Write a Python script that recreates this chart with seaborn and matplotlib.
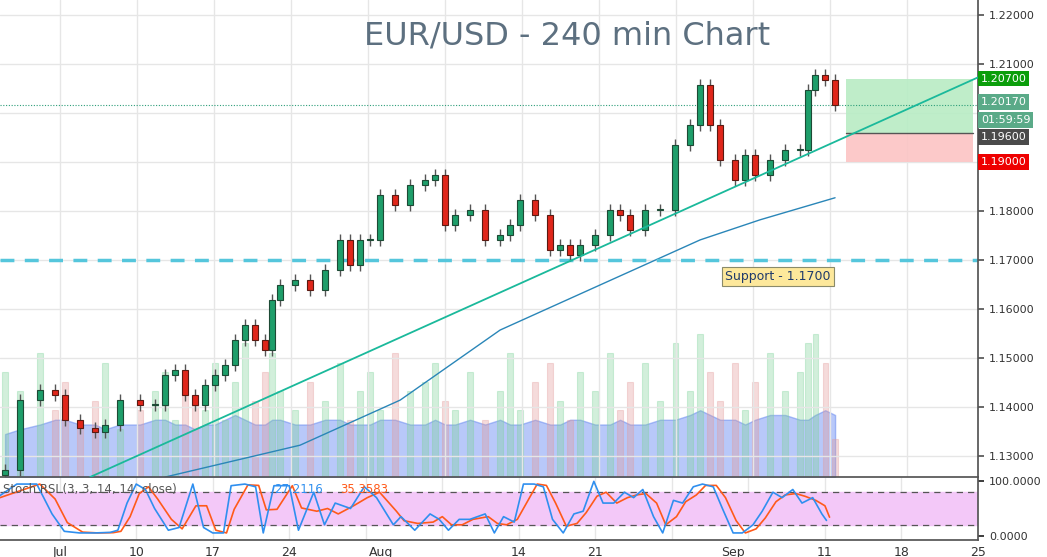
import matplotlib
matplotlib.use("Agg")
import matplotlib.pyplot as plt
import seaborn as sns
import numpy as np
import pandas as pd

sns.set_theme(style="white")
plt.rcParams['font.family'] = ['DejaVu Sans']

# trading-day positions (0 = Mon Jul 3)
bar_t = [-3.57,-2.6,-1.3,-0.32,0.32,1.3,2.27,2.92,3.9,5.19,6.17,6.82,7.47,8.12,8.77,
         9.42,10.06,10.71,11.36,12.01,12.66,13.31,13.77,14.29,15.26,16.23,17.21,18.18,18.83,19.48,
         20.13,20.78,21.75,22.73,23.7,24.35,25.0,25.65,26.62,27.6,28.57,29.22,29.87,30.84,31.82,
         32.47,33.12,33.77,34.74,35.71,36.36,37.01,37.99,38.96,39.94,40.91,41.56,42.21,42.86,43.83,
         44.48,45.13,46.1,47.08,48.05,48.57,49.03,49.68,50.32]
close = [1.1271,1.1414,1.1435,1.1424,1.1373,1.1357,1.1349,1.1363,1.1414,1.1404,1.1404,1.1465,1.1476,1.1424,1.1404,
         1.1445,1.1465,1.1486,1.1537,1.1567,1.1537,1.1516,1.1618,1.1649,1.1659,1.1639,1.1680,1.1741,1.1690,1.1741,
         1.1741,1.1833,1.1812,1.1853,1.1863,1.1873,1.1771,1.1792,1.1802,1.1741,1.1751,1.1771,1.1822,1.1792,1.1720,
         1.1731,1.1710,1.1731,1.1751,1.1802,1.1792,1.1761,1.1802,1.1802,1.1935,1.1976,1.2057,1.1976,1.1904,1.1863,
         1.1914,1.1873,1.1904,1.1924,1.1924,1.2047,1.2078,1.2067,1.2017]
first_open = 1.1262
volume = [22,18,26,14,20,12,16,24,10,14,18,22,12,20,16,
          14,24,12,20,28,16,22,26,18,14,20,16,24,12,18,
          22,14,26,18,20,24,16,14,22,12,18,26,14,20,24,
          16,12,22,18,26,14,20,24,16,28,18,30,22,16,24,
          14,20,26,18,22,28,30,24,8]
vol_ma = [9,10,11,12,12,11,11,10,11,11,12,12,11,11,10,
          11,11,12,13,12,11,11,12,12,11,11,12,12,11,11,
          11,12,12,11,11,12,11,11,12,11,12,11,11,12,11,
          11,12,12,11,11,12,11,11,12,12,13,14,13,12,12,
          11,12,13,13,12,12,13,14,13]
sma_t = [6.82,15.58,22.08,28.57,35.06,41.56,45.45,50.32]
sma_p = [1.1257,1.1322,1.1414,1.1557,1.1649,1.1741,1.1782,1.1827]
trend_t = [1.95,60.4]
trend_p = [1.1257,1.2084]
rsi_t = [-3.9,-2.6,-1.3,-0.3,0.5,1.5,2.5,3.5,4.0,4.6,5.2,5.8,6.4,7.3,8.0,
         8.9,9.6,10.2,10.9,11.4,12.3,13.0,13.5,14.2,15.2,15.8,16.8,17.5,18.2,19.2,20.1,
         20.9,22.0,22.5,23.4,24.4,25.0,25.6,26.3,27.0,28.0,28.6,29.2,29.9,30.5,31.2,
         31.8,32.4,33.1,33.8,34.4,35.1,35.7,36.4,37.1,37.7,38.3,39.0,39.6,40.3,40.9,
         41.6,42.2,42.9,43.5,44.2,44.8,45.5,46.1,46.8,47.4,48.1,48.7,49.4,50.0,50.3]
rsi_k = [70,95,95,40,8,5,5,6,10,60,95,85,50,10,15,95,15,5,5,92,95,90,5,92,92,10,80,20,60,50,90,
         70,20,35,10,40,30,10,30,30,40,5,35,25,95,95,90,30,5,40,45,100,60,60,80,70,85,35,5,
         65,60,90,95,90,50,5,5,20,45,80,70,85,60,70,40,28]
price_ticks = [1.13,1.14,1.15,1.16,1.17,1.18,1.21,1.22]

fig = plt.figure(figsize=(10.47, 5.57), dpi=100)
ax = fig.add_axes([0.0, 1-477/557, 978/1047, 477/557])
axr = fig.add_axes([0.0, 1-540/557, 978/1047, 63/557])
xmin, xmax = -3.9, 59.6
ymin, ymax = 1.12571, 1.22306

axv = ax.twinx()
axv.set_ylim(0, 100); axv.set_xlim(xmin, xmax); axv.axis('off')
opens = [first_open] + close[:-1]
up = [c >= o for o, c in zip(opens, close)]
df = pd.DataFrame(dict(t=bar_t, o=opens, c=close, v=volume, ma=vol_ma, up=up))
axv.fill_between(df.t, 0, df.ma, color='#7f9cf5', alpha=0.55, lw=1, edgecolor='#6b8cf0', zorder=1)
for _, r in df.iterrows():
    col = '#7ed39a' if r.up else '#e39a9a'
    axv.bar(r.t, r.v, width=0.35, color=col, alpha=0.35, edgecolor=col, lw=0.8, zorder=1)
ax.set_zorder(axv.get_zorder()+1); ax.patch.set_visible(False)

for p in np.arange(1.13, 1.221, 0.01):
    ax.axhline(p, color='#e6e6e6', lw=1, zorder=0)
for t in [0,5,10,15,20,25,30,35,40,45,50,55]:
    ax.axvline(t, color='#e6e6e6', lw=1, zorder=0)
    axr.axvline(t, color='#e6e6e6', lw=1, zorder=0)

wick = 0.0012
for _, r in df.iterrows():
    lo, hi = min(r.o, r.c), max(r.o, r.c)
    fc = '#1e9e6a' if r.up else '#e0261a'
    ax.vlines(r.t, lo - wick, hi + wick, color='#555555', lw=1, zorder=3)
    ax.bar(r.t, max(hi - lo, 0.0002), bottom=lo, width=0.36, color=fc,
           edgecolor='#1d4a35' if r.up else '#5a1a12', lw=0.8, zorder=4)

sns.lineplot(x=sma_t, y=sma_p, ax=ax, color='#2a86b8', lw=1, zorder=2)
sns.lineplot(x=trend_t, y=trend_p, ax=ax, color='#1ab99b', lw=1.3, zorder=5)
ax.axhline(1.17, color='#55c6dc', lw=2.5, ls=(0, (4, 3)), zorder=2)
ax.axhline(1.2017, color='#2e9e7a', lw=0.8, ls=(0, (1, 1.5)), zorder=2)

ax.fill_between([51.0, 59.3], 1.196, 1.207, color='#b8ecc4', alpha=0.9, zorder=1.5, lw=0)
ax.fill_between([51.0, 59.3], 1.19, 1.196, color='#fcc4c4', alpha=0.9, zorder=1.5, lw=0)
ax.plot([51.0, 59.3], [1.196, 1.196], color='#555555', lw=1, zorder=2)

ax.set_xlim(xmin, xmax); ax.set_ylim(ymin, ymax)
ax.set_xticks([]); ax.yaxis.tick_right()
ax.set_yticks(price_ticks)
ax.set_yticklabels([f"{v:.5f}" for v in price_ticks], fontsize=8, color='#333333')
ax.tick_params(axis='y', length=4, pad=4, right=True, color='#555555')
for s in ['top', 'left']:
    ax.spines[s].set_visible(False)
ax.spines['right'].set_color('#555555'); ax.spines['bottom'].set_color('#555555')

ax.text(0.58, 0.925, "EUR/USD - 240 min Chart", transform=ax.transAxes, ha='center', va='center',
        fontsize=23, color='#5d7080')
ax.text(46.6, 1.1667, "Support - 1.1700", ha='center', va='center', fontsize=9, color='#1f3a6b', zorder=6,
        bbox=dict(boxstyle='square,pad=0.25', fc='#fde89b', ec='#8a8a6a', lw=0.8))

def plabel(y, txt, bg, dy=0):
    ax.annotate(txt, xy=(1.0, y), xycoords=('axes fraction', 'data'), xytext=(2, dy), textcoords='offset points',
                ha='left', va='center', fontsize=8, color='white', annotation_clip=False,
                bbox=dict(boxstyle='square,pad=0.25', fc=bg, ec='none'))
plabel(1.2070, "1.20700", '#0b9e0b')
plabel(1.2017, "1.20170", '#5aaa88', dy=2)
plabel(1.2017, "01:59:59", '#5aaa88', dy=-11)
plabel(1.1960, "1.19600", '#4a4a4a', dy=-3)
plabel(1.1900, "1.19000", '#ee0000')

rs = pd.DataFrame(dict(t=rsi_t, k=rsi_k))
rs['d'] = rs.k.rolling(2, min_periods=1).mean()
axr.axhspan(20, 80, color='#f3c8f8', zorder=0)
axr.axhline(80, color='#555555', lw=0.9, ls=(0, (5, 4)))
axr.axhline(20, color='#555555', lw=0.9, ls=(0, (5, 4)))
sns.lineplot(x=rs.t, y=rs.d, ax=axr, color='#ff5a1a', lw=1.2)
sns.lineplot(x=rs.t - 0.2, y=rs.k, ax=axr, color='#2f8fef', lw=1.2)
axr.set_xlim(xmin, xmax); axr.set_ylim(-8, 108)
axr.yaxis.tick_right()
axr.set_yticks([0, 100]); axr.set_yticklabels(["0.0000", "100.0000"], fontsize=8, color='#333333')
axr.tick_params(axis='y', length=4, pad=4)
axr.set_xticks([0, 5, 10, 15, 21, 30, 35, 44, 50, 55, 60])
axr.set_xticklabels(["Jul", "10", "17", "24", "Aug", "14", "21", "Sep", "11", "18", "25"], fontsize=9, color='#333333')
axr.tick_params(axis='x', length=3, pad=1)
axr.set_xlabel(""); axr.set_ylabel(""); ax.set_xlabel(""); ax.set_ylabel("")
for s in ['top', 'left']:
    axr.spines[s].set_visible(False)
axr.spines['right'].set_color('#555555'); axr.spines['bottom'].set_color('#555555')
axr.text(-3.7, 85, "Stoch RSI (3, 3, 14, 14, close)", fontsize=8.5, color='#555555', va='center')
axr.text(14.0, 85, "27.2116", fontsize=8.5, color='#2f8fef', va='center')
axr.text(18.3, 85, "35.3583", fontsize=8.5, color='#ff5a1a', va='center')

fig.savefig("out.png", dpi=100)
